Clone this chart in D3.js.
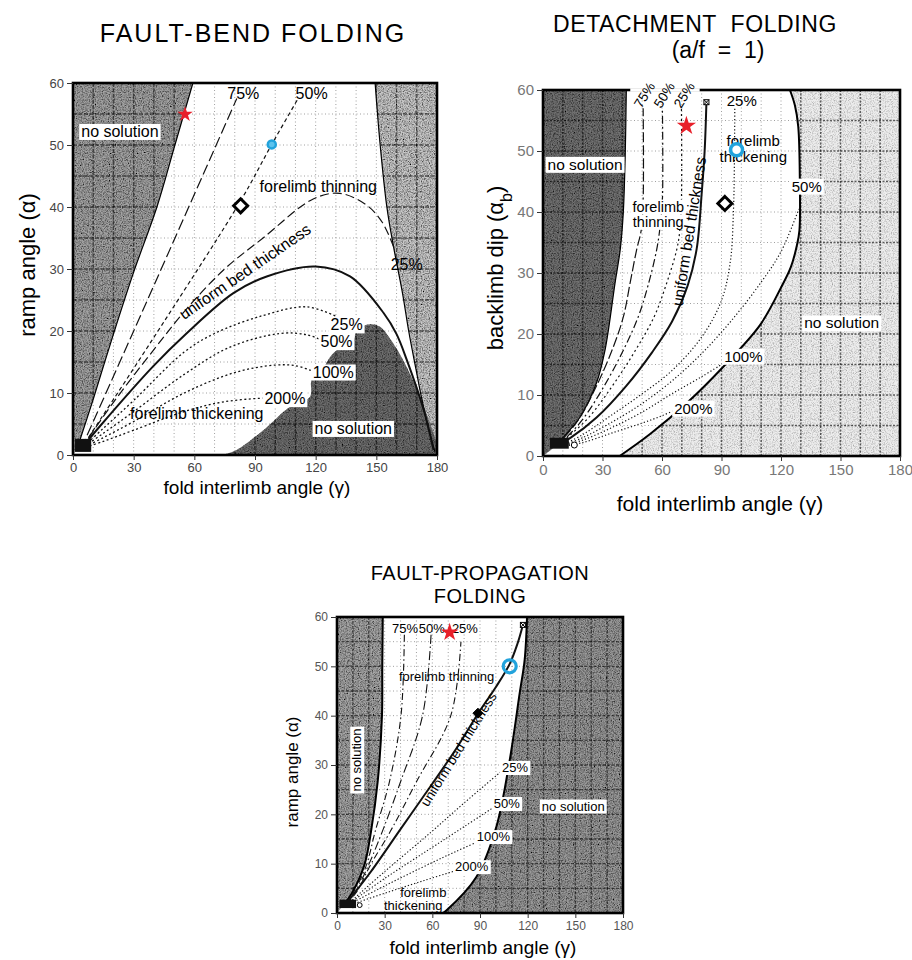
<!DOCTYPE html>
<html>
<head>
<meta charset="utf-8">
<title>Folding solution fields</title>
<script src="https://d3js.org/d3.v7.min.js"></script>
<style>
  body { margin: 0; background: #fff; }
  text { font-family: "Liberation Sans", Arial, sans-serif; fill: #000; }
</style>
</head>
<body>
<svg width="912" height="960"></svg>
<script>
// shared ticks
const gammaTicks = [0, 30, 60, 90, 120, 150, 180];
const alphaTicks = [0, 10, 20, 30, 40, 50, 60];

// ---- fault-bend folding : [interlimb angle, ramp angle] ----
const fbLeftEdge   = [[2,1],[10,9],[20,19.5],[30,29.5],[41.5,40],[50.4,50],[59.3,60]];
const fbRightEdge  = [[149.4,60],[151.9,50],[155.2,40],[158.5,33.6],[163,26],[166,20],[169.5,14],[172.5,9],[176,4],[179,0.5]];
const fbBottomEdge = [[71.8,0],[76,0.2],[80.9,0.8],[94.1,4],[107.3,7.8],[117.2,9.4],[118,12.1],[122.1,13.2],[128.7,16.4],[138.6,18.5],[140.3,20.2],[146.9,21.1],[151.8,20.7],[158.4,18],[165,14.2],[171.6,9.4],[176.5,5.1],[179.8,1.9],[180,0]];
const fbThin75  = [[4,1],[42,28.8],[81,57.5]];
const fbThin50  = [[4,1],[45,21.5],[82.9,41],[98.3,50.1],[111.5,57.6]];
const fbThin25  = [[4,1],[20,8.5],[40,17],[56,23.5],[75,30],[94,35],[118.8,41.3],[132,42.2],[145.2,40.3],[153,37.5],[159.2,33]];
const fbUniform = [[4,1],[13.2,4.6],[39.6,14.3],[56.1,19.6],[79.3,26.1],[95.8,28.8],[120,30.4],[137,28.8],[153.6,22.9],[160,19.5],[165.1,15.3],[173.4,7.3],[178.3,0.8]];
const fbThick25  = [[4,1],[15,4.3],[30,8.8],[55,16.6],[70,19.6],[94,22.5],[115.3,23.9],[130,22.4]];
const fbThick50  = [[4,1],[15,3.5],[30,7],[55,13],[77.6,17.4],[102.4,19.6],[115.5,19.4],[124,18.4]];
const fbThick100 = [[4,1],[15,2.8],[30,5.4],[55,10],[80,13.3],[100,14.5],[110,14.4],[118,13.6]];
const fbThick200 = [[4,1],[15,2.2],[30,4],[55,7],[75,8.6],[95,9.2]];
const fbStar = [55.4, 55.1], fbCircle = [98.3, 50.1], fbDiamond = [82.9, 40.2];

// ---- detachment folding : [interlimb angle, backlimb dip] ----
const ddLeftEdge  = [[42,60],[41.5,50],[40.5,40],[39,34],[36.3,28.3],[31.3,17.4],[27,12],[18.7,6.4],[12,3.7],[6,1.5]];
const ddRightEdge = [[124.5,60],[127,57.5],[128.7,54],[129.5,45],[129.3,37],[128,34.5],[125,31],[120.3,27.8],[109.5,21.5],[90.8,14.6],[73.2,8.9],[54,3.6],[38.7,0]];
const ddThin75  = [[6,1.5],[10,2.8],[18,6],[27,11.5],[35,17.5],[40.5,22.8],[44,28.5],[47.2,33.8],[49.5,37],[50.5,42],[50.5,57]];
const ddThin50  = [[6,1.5],[11,2.8],[20,6],[30,11],[40,17],[48,22.8],[53,28],[57.3,33.8],[59,37.5],[60.2,42],[60.2,57]];
const ddThin25  = [[6,1.5],[12,3],[23,6.3],[35,11.5],[46,17],[56,22.8],[62,28],[67.4,33.8],[69,37],[69.8,42],[69.8,57]];
const ddUniform = [[6,1.5],[14,3],[27,6.3],[42,11.5],[55,17],[65,22],[73,28],[77.5,34],[80,43],[81.5,50],[82.4,58]];
const ddThick25  = [[8,1.5],[20,3.5],[35,6.8],[50,10.2],[65,14],[80,19.5],[90,25.5],[94.5,32],[96,40],[96.5,48],[96.7,57]];
const ddThick50  = [[8,1.5],[20,3],[35,5.6],[50,8.6],[65,12.3],[80,16.8],[95,22.2],[110,28.5],[120,33.5],[129,40.5]];
const ddThick100 = [[8,1.5],[20,2.6],[35,4.7],[50,7.2],[65,10.2],[80,13],[90,15]];
const ddThick200 = [[8,1.5],[20,2.2],[35,3.8],[50,5.4],[60,6.6],[67,7.6]];
const ddStar = [72.3, 54.3], ddCircle = [97.6, 50.2], ddDiamond = [91.7, 41.4], ddBox = [82.4, 58];

// ---- fault-propagation folding : [interlimb angle, ramp angle] ----
const fpLeftEdge  = [[28.8,60],[28.5,50],[28.3,40],[25.6,26.6],[21.4,16.5],[17.2,9.7],[9.9,4.3],[4.2,1.6]];
const fpRightEdge = [[119.6,60],[118.1,51.3],[115,44.6],[108.7,31],[100.3,17.5],[87.7,7.3],[68.8,0.5],[66.7,0]];
const fpThin75  = [[4,1.2],[11,4.5],[18.5,9.7],[24,16.5],[33,26.6],[40.3,40.1],[42.4,56.4]];
const fpThin50  = [[4,1.2],[11.5,4.3],[19.8,9.7],[28.5,16.5],[40,26.6],[53.9,40.1],[59.2,56.4]];
const fpThin25  = [[4,1.2],[12,4.1],[21,9.7],[33.5,16.5],[50,26.6],[71.7,40.1],[78,55]];
const fpUniform = [[4,1.2],[20,7.8],[40,17],[60,26.2],[75,33.3],[88.9,40.5],[100,45.8],[108.7,50.5],[113.5,54.5],[117,58.4]];
const fpThick25  = [[5,1.3],[30,8.4],[58.5,16.2],[80,22.3],[103,28.6]];
const fpThick50  = [[5,1.3],[30,7],[58.5,13],[80,17.5],[99,21.5]];
const fpThick100 = [[5,1.3],[30,5.5],[58.5,10],[75,12.5],[89,14.5]];
const fpThick200 = [[5,1.3],[30,4],[55,6.6],[77,8.8]];
const fpStar = [70.9, 57.1], fpCircle = [108.7, 50], fpDiamond = [88.7, 40.5], fpBox = [117, 58.4];

const svg = d3.select('svg');
const defs = svg.append('defs');

// grainy print texture for the shaded fields
function speckle(id, a, b) {
  const f = defs.append('filter').attr('id', id).attr('x', 0).attr('y', 0).attr('width', 1).attr('height', 1);
  f.append('feTurbulence').attr('type', 'fractalNoise').attr('baseFrequency', 0.85)
    .attr('numOctaves', 2).attr('seed', 4).attr('result', 'noise');
  f.append('feColorMatrix').attr('in', 'noise').attr('type', 'matrix')
    .attr('values', `0 0 0 0 0  0 0 0 0 0  0 0 0 0 0  ${a} 0 0 0 ${b}`).attr('result', 'dots');
  f.append('feComposite').attr('in', 'dots').attr('in2', 'SourceGraphic').attr('operator', 'in').attr('result', 'd2');
  const m = f.append('feMerge');
  m.append('feMergeNode').attr('in', 'SourceGraphic');
  m.append('feMergeNode').attr('in', 'd2');
}
speckle('speck', 2.0, -0.7);
speckle('speckLight', 1.3, -0.55);

function grid(p, layer, color, dash, width, op) {
  layer.append('g').selectAll('line').data(d3.range(10, 180, 10)).join('line')
    .attr('x1', d => p.x(d)).attr('x2', d => p.x(d)).attr('y1', 0).attr('y2', p.h);
  layer.append('g').selectAll('line').data(d3.range(5, 60, 5)).join('line')
    .attr('x1', 0).attr('x2', p.w).attr('y1', d => p.y(d)).attr('y2', d => p.y(d));
  layer.selectAll('line').attr('stroke', color).attr('stroke-dasharray', dash)
    .attr('stroke-width', width).attr('opacity', op);
}

function makePanel(id, left, top, w, h) {
  const g = svg.append('g').attr('transform', `translate(${left},${top})`);
  const x = d3.scaleLinear().domain([0, 180]).range([0, w]);
  const y = d3.scaleLinear().domain([0, 60]).range([h, 0]);
  const p = { id, g, x, y, w, h };
  p.clip = defs.append('clipPath').attr('id', id + '-clip');
  p.smooth = d3.line().x(d => x(d[0])).y(d => y(d[1])).curve(d3.curveCatmullRom.alpha(0.5));
  grid(p, g.append('g'), '#8a8a8a', '1,2.5', 0.9, 0.9);
  p.shades = g.append('g');
  p.dark = g.append('g').attr('clip-path', `url(#${id}-clip)`);
  p.lines = g.append('g');
  p.frame = g.append('g');
  p.labels = g.append('g');
  p.marks = g.append('g');
  return p;
}

function shade(p, edge, corners, fill, filter, stroke) {
  const d = p.smooth(edge) + corners.map(c => `L${p.x(c[0])},${p.y(c[1])}`).join('') + 'Z';
  p.shades.append('path').attr('d', d).attr('fill', fill).attr('filter', `url(#${filter})`);
  p.clip.append('path').attr('d', d);
  if (stroke) {
    p.lines.append('path').attr('d', p.smooth(edge)).attr('fill', 'none')
      .attr('stroke', '#000').attr('stroke-width', stroke);
  }
}

function curve(p, pts, dash, width) {
  p.lines.append('path').attr('d', p.smooth(pts)).attr('fill', 'none')
    .attr('stroke', '#111').attr('stroke-width', width || 1.2)
    .attr('stroke-dasharray', dash || null);
}

function label(p, gx, gy, txt, size, o = {}) {
  const tr = `translate(${p.x(gx)},${p.y(gy)}) rotate(${o.rot || 0})`;
  const t = p.labels.append('text').attr('transform', tr)
    .attr('text-anchor', o.anchor || 'middle').attr('dy', '0.35em')
    .style('font-size', size + 'px').text(txt);
  if (o.bg) {
    const b = t.node().getBBox();
    p.labels.insert('rect', () => t.node()).attr('transform', tr)
      .attr('x', b.x - 2).attr('y', b.y + 1).attr('width', b.width + 4).attr('height', b.height - 1)
      .attr('fill', '#fff');
  }
}

function star(p, pt, size) {
  p.marks.append('path').attr('d', d3.symbol(d3.symbolStar, size)())
    .attr('transform', `translate(${p.x(pt[0])},${p.y(pt[1]) + 1})`).attr('fill', '#e8202a');
}
function diamond(p, pt, r, filled) {
  const cx = p.x(pt[0]), cy = p.y(pt[1]);
  p.marks.append('path').attr('d', `M${cx},${cy - r}L${cx + r},${cy}L${cx},${cy + r}L${cx - r},${cy}Z`)
    .attr('fill', filled ? '#000' : '#fff').attr('stroke', '#000').attr('stroke-width', filled ? 1 : 3);
}
function ring(p, pt, r, width, fill) {
  p.marks.append('circle').attr('cx', p.x(pt[0])).attr('cy', p.y(pt[1])).attr('r', r)
    .attr('fill', fill).attr('stroke', '#22a3dc').attr('stroke-width', width);
}
function boxMark(p, pt, s) {
  const cx = p.x(pt[0]), cy = p.y(pt[1]);
  const m = p.marks.append('g').attr('stroke', '#000').attr('stroke-width', 1);
  m.append('rect').attr('x', cx - s).attr('y', cy - s).attr('width', 2 * s).attr('height', 2 * s).attr('fill', '#fff');
  m.append('path').attr('d', `M${cx - s},${cy - s}L${cx + s},${cy + s}M${cx + s},${cy - s}L${cx - s},${cy + s}`);
}
function blob(p, g0, a0, g1, a1) {
  p.marks.append('rect').attr('x', p.x(g0)).attr('y', p.y(a1))
    .attr('width', p.x(g1) - p.x(g0)).attr('height', p.y(a0) - p.y(a1)).attr('fill', '#111');
}

function finish(p, tickSize, tickColor) {
  p.frame.append('rect').attr('width', p.w).attr('height', p.h)
    .attr('fill', 'none').attr('stroke', '#000').attr('stroke-width', 2.6);
  const ax = p.g.append('g').attr('transform', `translate(0,${p.h})`)
    .call(d3.axisBottom(p.x).tickValues(gammaTicks).tickSize(5).tickPadding(3));
  const ay = p.g.append('g')
    .call(d3.axisLeft(p.y).tickValues(alphaTicks).tickSize(6).tickPadding(3));
  [ax, ay].forEach(a => {
    a.select('.domain').remove();
    a.selectAll('line').attr('stroke', '#333');
    a.selectAll('text').style('font-size', tickSize + 'px').style('fill', tickColor);
  });
}

function text(x, y, s, size, o = {}) {
  return svg.append('text').attr('x', x).attr('y', y).attr('text-anchor', 'middle')
    .attr('transform', o.rot ? `rotate(${o.rot},${x},${y})` : null)
    .style('font-size', size + 'px').style('letter-spacing', (o.ls || 0) + 'px')
    .style('white-space', 'pre').text(s);
}

// ================= FAULT-BEND FOLDING =================
const p1 = makePanel('fb', 73, 83, 364, 372);
shade(p1, fbLeftEdge, [[0, 60], [0, 0]], '#a3a3a3', 'speck', 1.2);
shade(p1, fbRightEdge, [[180, 0], [180, 60]], '#c9c9c9', 'speck', 1.2);
shade(p1, fbBottomEdge, [], '#6e6e6e', 'speck', 0);
grid(p1, p1.dark, '#000', '4,1.5', 1.4, 0.55);
curve(p1, fbThin75, '11,4', 1.2);
curve(p1, fbThin50, '4,3', 1.2);
curve(p1, fbThin25, '9,4', 1.2);
curve(p1, fbUniform, null, 2);
curve(p1, fbThick25, '2,2.5', 1.3);
curve(p1, fbThick50, '2,2.5', 1.3);
curve(p1, fbThick100, '2,2.5', 1.3);
curve(p1, fbThick200, '2,2.5', 1.3);
finish(p1, 13, '#444');
label(p1, 23.2, 52.2, 'no solution', 16, { bg: true });
label(p1, 84.2, 58.3, '75%', 16);
label(p1, 118, 58.3, '50%', 16);
label(p1, 121.3, 43.4, 'forelimb thinning', 16);
label(p1, 165, 30.8, '25%', 16);
label(p1, 85, 29.6, 'uniform bed thickness', 16, { rot: -34.5 });
label(p1, 61.2, 6.7, 'forelimb thickening', 16);
label(p1, 138.6, 4.3, 'no solution', 16, { bg: true });
label(p1, 135.3, 21, '25%', 16, { bg: true });
label(p1, 130.3, 18.3, '50%', 16, { bg: true });
label(p1, 128.7, 13.4, '100%', 16, { bg: true });
label(p1, 104.8, 9.1, '200%', 16, { bg: true });
blob(p1, 1, 0.5, 9, 2.6);
star(p1, fbStar, 75);
ring(p1, fbCircle, 4, 2.5, '#5cc3ee');
diamond(p1, fbDiamond, 7, false);
text(253, 42, 'FAULT-BEND FOLDING', 25, { ls: 2 });
text(257, 494, 'fold interlimb angle (γ)', 19);
text(35, 265, 'ramp angle (α)', 22, { rot: -90 });

// ================= DETACHMENT FOLDING =================
const p2 = makePanel('dd', 543, 90, 357, 366);
shade(p2, ddLeftEdge, [[0, 0], [0, 60]], '#727272', 'speck', 1.2);
shade(p2, ddRightEdge, [[180, 0], [180, 60]], '#ededed', 'speckLight', 0);
p2.lines.append('path').attr('d', p2.smooth(ddRightEdge)).attr('fill', 'none')
  .attr('stroke', '#000').attr('stroke-width', 2);
grid(p2, p2.dark, '#000', '2,1.5', 1.5, 0.6);
curve(p2, ddThin75, '10,3', 1.2);
curve(p2, ddThin50, '8,3,2,3', 1.2);
curve(p2, ddThin25, '2,3', 1.2);
curve(p2, ddUniform, null, 2);
curve(p2, ddThick25, '1.2,2.2', 1.2);
curve(p2, ddThick50, '1.2,2.2', 1.2);
curve(p2, ddThick100, '1.2,2.2', 1.2);
curve(p2, ddThick200, '1.2,2.2', 1.2);
finish(p2, 15, '#777');
p2.frame.append('line').attr('x1', p2.x(44)).attr('x2', p2.x(79)).attr('y1', 0).attr('y2', 0)
  .attr('stroke', '#fff').attr('stroke-width', 3.4);
label(p2, 21.2, 47.8, 'no solution', 15.5, { bg: true });
label(p2, 47.5, 57.3, '75%', 13.5, { rot: -58, anchor: 'start' });
label(p2, 57.5, 57.3, '50%', 13.5, { rot: -58, anchor: 'start' });
label(p2, 67.6, 57.3, '25%', 13.5, { rot: -58, anchor: 'start' });
label(p2, 100.2, 58.2, '25%', 15);
label(p2, 58.1, 40.9, 'forelimb', 14.5, { bg: true });
label(p2, 58.1, 38.4, 'thinning', 14.5, { bg: true });
label(p2, 73.6, 36.8, 'uniform bed thickness', 15.5, { rot: -81 });
label(p2, 106, 51.6, 'forelimb', 15);
label(p2, 106, 49.1, 'thickening', 15);
label(p2, 133, 44.2, '50%', 15, { bg: true });
label(p2, 101, 16.3, '100%', 15, { bg: true });
label(p2, 75.8, 7.8, '200%', 15, { bg: true });
label(p2, 150.6, 21.8, 'no solution', 15.5, { bg: true });
blob(p2, 3.5, 1.2, 13, 3);
p2.marks.append('circle').attr('cx', p2.x(15.8)).attr('cy', p2.y(1.8)).attr('r', 3)
  .attr('fill', '#fff').attr('stroke', '#000').attr('stroke-width', 1);
boxMark(p2, ddBox, 2.5);
star(p2, ddStar, 115);
ring(p2, ddCircle, 6, 3.5, '#fff');
diamond(p2, ddDiamond, 7, false);
text(695, 32, 'DETACHMENT  FOLDING', 23, { ls: 0.6 });
text(718, 58, '(a/f  =  1)', 23);
text(720, 511, 'fold interlimb angle (γ)', 21);
const yl2 = svg.append('text').attr('x', 503).attr('y', 268).attr('text-anchor', 'middle')
  .attr('transform', 'rotate(-90,503,268)').style('font-size', '22px');
yl2.append('tspan').text('backlimb dip (α');
yl2.append('tspan').attr('baseline-shift', 'sub').style('font-size', '16px').text('b');
yl2.append('tspan').text(')');

// ================= FAULT-PROPAGATION FOLDING =================
const p3 = makePanel('fp', 337, 617, 286, 296);
shade(p3, fpLeftEdge, [[0, 0], [0, 60]], '#a6a6a6', 'speck', 2);
shade(p3, fpRightEdge, [[180, 0], [180, 60]], '#9a9a9a', 'speck', 2);
grid(p3, p3.dark, '#000', '3,1.5', 1.3, 0.55);
curve(p3, fpThin75, '7,3,1.5,3', 1.1);
curve(p3, fpThin50, '9,3,1.5,3', 1.1);
curve(p3, fpThin25, '7,3,1.5,3', 1.1);
curve(p3, fpUniform, null, 2);
curve(p3, fpThick25, '1.3,2', 1.1);
curve(p3, fpThick50, '1.3,2', 1.1);
curve(p3, fpThick100, '1.3,2', 1.1);
curve(p3, fpThick200, '1.3,2', 1.1);
finish(p3, 12, '#555');
label(p3, 12.4, 31, 'no solution', 13, { rot: -90, bg: true });
label(p3, 148.7, 21.7, 'no solution', 13, { bg: true });
label(p3, 42.8, 57.7, '75%', 13);
label(p3, 59.6, 57.7, '50%', 13);
label(p3, 80.5, 57.7, '25%', 13);
label(p3, 69, 47.9, 'forelimb thinning', 13);
label(p3, 76.5, 33.2, 'uniform bed thickness', 13.5, { rot: -58 });
label(p3, 54.3, 4.2, 'forelimb', 13);
label(p3, 48, 1.6, 'thickening', 13);
label(p3, 112, 29.5, '25%', 13, { bg: true });
label(p3, 106.8, 22.2, '50%', 13, { bg: true });
label(p3, 98.4, 15.5, '100%', 13, { bg: true });
label(p3, 84.8, 9.4, '200%', 13, { bg: true });
blob(p3, 1.5, 1, 12, 2.7);
p3.marks.append('circle').attr('cx', p3.x(14.3)).attr('cy', p3.y(1.6)).attr('r', 2.4)
  .attr('fill', '#fff').attr('stroke', '#000').attr('stroke-width', 1);
boxMark(p3, fpBox, 2.5);
star(p3, fpStar, 100);
ring(p3, fpCircle, 6.5, 3.2, 'none');
diamond(p3, fpDiamond, 5, true);
text(480, 580, 'FAULT-PROPAGATION', 20, { ls: 0.5 });
text(480, 603, 'FOLDING', 20, { ls: 0.5 });
text(483, 954, 'fold interlimb angle (γ)', 19);
text(298, 772, 'ramp angle (α)', 17, { rot: -90 });
</script>
</body>
</html>
